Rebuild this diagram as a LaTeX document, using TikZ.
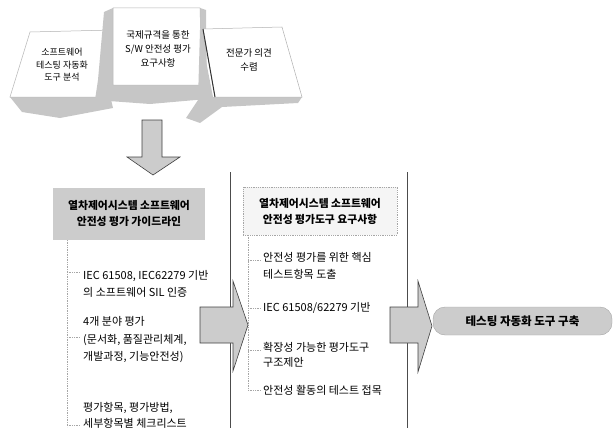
\documentclass[tikz,border=0pt]{standalone}
\usepackage{fontspec}
\setmainfont{Noto Sans CJK KR}
\begin{document}
\begin{tikzpicture}[x=1pt,y=-1pt,
  shadow/.style={fill=gray!45, draw=none},
  card/.style={fill=white, draw=gray!60, line width=0.5pt},
  blockarrow/.style={fill=gray!40, draw=black!75, line width=0.6pt, line join=miter},
  toptext/.style={align=center, inner sep=0pt, font=\fontsize{9}{12.5}\selectfont},
  headbox/.style={minimum width=152pt, minimum height=52pt, inner sep=0pt, align=center, font=\bfseries\fontsize{10.8}{16}\selectfont},
  item/.style={anchor=west, align=left, inner sep=0pt, font=\fontsize{11}{17.5}\selectfont},
  bracket/.style={draw=gray!70, densely dotted, line width=0.7pt},
  tick/.style={draw=gray!70, densely dotted, line width=0.7pt},
  panel/.style={draw=black!70, line width=0.5pt}
]
\useasboundingbox (0,0) rectangle (615,428);

% ---- top cards ----
% left card
\fill[shadow] (10,97) -- (110,95) -- (113,108) -- (60,118) -- (22,112) -- cycle;
\draw[card] (30,32) -- (112,30) -- (110,97) -- (10,97) -- cycle;
\node[toptext] (t1) at (62,65) {소프트웨어\\테스팅 자동화\\도구 분석};
% middle card
\fill[shadow] (104,12) -- (113,8) -- (202,85) -- (207,99) -- (150,104) -- (95,100) -- (98,80) -- cycle;
\fill[shadow] (200,8) -- (206,10) -- (207,99) -- (202,85) -- cycle;
\draw[card] (113,8) -- (200,8) -- (202,85) -- (113,85) -- cycle;
\node[toptext, font=\fontsize{9.5}{14}\selectfont] (t2) at (158,49) {국제규격을 통한\\S/W 안전성 평가\\요구사항};
% right card
\fill[shadow] (200,30) -- (213,97) -- (302,97) -- (298,103) -- (222,107) -- (200,123) -- (186,118) -- (198,100) -- cycle;
\draw[card] (203,29) -- (282,27) -- (302,97) -- (215,97) -- cycle;
\draw[black!80, line width=1pt] (203,29) -- (215,97);
\node[toptext, font=\fontsize{9.5}{14}\selectfont] (t3) at (249,60) {전문가 의견\\수렴};

% ---- down arrow ----
\draw[blockarrow] (142,120) -- (162,120) -- (162,157) -- (180,157) -- (153,175) -- (127,157) -- (142,157) -- cycle;

% ---- panel lines ----
\draw[panel] (230,172) -- (230,428);
\draw[panel] (407,172) -- (407,428);

% ---- left column ----
\node[headbox, fill=gray!40] (lbox) at (129,213.5) {열차제어시스템 소프트웨어\\안전성 평가 가이드라인};
\coordinate (lb0) at (67,240);
\coordinate (lb1) at (67,427);
\draw[bracket] (lb0) -- (lb1);
\node[item] (l1) at (83,284) {IEC 61508, IEC62279 기반\\의 소프트웨어 SIL 인증};
\node[item] (l2) at (83,340) {4개 분야 평가\\(문서화, 품질관리체계,\\개발과정, 기능안전성)};
\node[item, font=\fontsize{11}{16}\selectfont] (l3) at (83,415) {평가항목, 평가방법,\\세부항목별 체크리스트};
\draw[tick] (67,272) -- (80,272);
\draw[tick] (67,337) -- (80,337);
\draw[tick] (67,425) -- (80,425);

% ---- middle column ----
\node[headbox, minimum width=154pt, minimum height=48pt, fill=gray!8, draw=gray!70, densely dotted, line width=0.8pt] (mbox) at (320,211) {열차제어시스템 소프트웨어\\안전성 평가도구 요구사항};
\coordinate (mb0) at (248,235);
\coordinate (mb1) at (248,391);
\draw[bracket] (mb0) -- (mb1);
\node[item] (m1) at (263,266) {안전성 평가를 위한 핵심\\테스트항목 도출};
\node[item] (m2) at (263,308) {IEC 61508/62279 기반};
\node[item, font=\fontsize{11}{15.5}\selectfont] (m3) at (263,355) {확장성 가능한 평가도구\\구조제안};
\node[item] (m4) at (263,390) {안전성 활동의 테스트 접목};
\draw[tick] (248,260) -- (260,260);
\draw[tick] (248,308) -- (260,308);
\draw[tick] (248,350) -- (260,350);
\draw[tick] (248,390) -- (260,390);

% ---- horizontal arrows ----
\draw[blockarrow] (200,307) -- (233,307) -- (233,281) -- (248,325) -- (233,371) -- (233,343) -- (200,343) -- cycle;
\draw[blockarrow] (390,307) -- (418,307) -- (418,281) -- (432,326) -- (418,372) -- (418,343) -- (390,343) -- cycle;

% ---- final box ----
\node[draw=gray!70, fill=gray!40, rounded corners=12pt, minimum width=179pt, minimum height=28pt, inner sep=0pt, font=\bfseries\fontsize{11.5}{12}\selectfont] (goal) at (522.5,321) {테스팅 자동화 도구 구축};
\end{tikzpicture}
\end{document}
